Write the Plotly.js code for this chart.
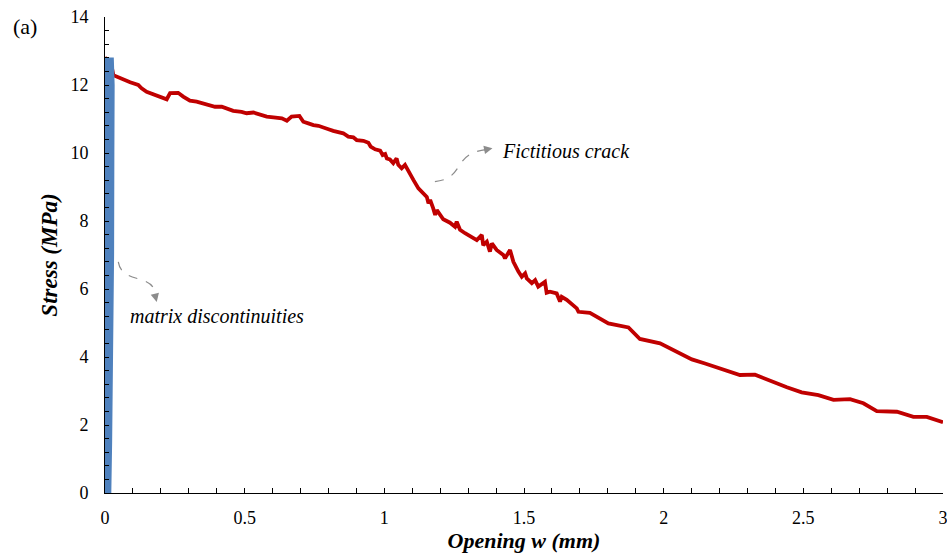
<!DOCTYPE html>
<html>
<head>
<meta charset="utf-8">
<script src="https://cdn.plot.ly/plotly-3.0.1.min.js"></script>
<style>html,body{margin:0;padding:0;background:#fff;}#chart{width:947px;height:554px;}</style>
</head>
<body>
<div id="chart"></div>
<script>
// Fictitious crack (red) — opening w (mm) vs stress (MPa)
const crackW = [0, 0.02, 0.030, 0.054, 0.090, 0.119, 0.131, 0.149, 0.179, 0.203, 0.221, 0.233, 0.262, 0.280, 0.304, 0.328, 0.364, 0.394, 0.418, 0.441, 0.459, 0.489, 0.507, 0.531, 0.555, 0.579, 0.603, 0.633, 0.651, 0.668, 0.696, 0.710, 0.728, 0.746, 0.764, 0.782, 0.800, 0.817, 0.835, 0.853, 0.871, 0.889, 0.901, 0.925, 0.943, 0.951, 0.967, 0.985, 0.994, 1.003, 1.009, 1.020, 1.032, 1.044, 1.050, 1.062, 1.074, 1.086, 1.104, 1.122, 1.140, 1.152, 1.158, 1.164, 1.175, 1.182, 1.188, 1.199, 1.211, 1.235, 1.253, 1.259, 1.271, 1.289, 1.307, 1.331, 1.349, 1.354, 1.367, 1.378, 1.385, 1.402, 1.426, 1.432, 1.450, 1.462, 1.480, 1.492, 1.504, 1.510, 1.528, 1.540, 1.551, 1.575, 1.581, 1.593, 1.617, 1.629, 1.635, 1.653, 1.689, 1.695, 1.736, 1.802, 1.874, 1.915, 1.987, 2.047, 2.101, 2.148, 2.214, 2.273, 2.327, 2.381, 2.441, 2.494, 2.554, 2.608, 2.667, 2.715, 2.763, 2.835, 2.894, 2.942, 3.000];
const crackStress = [12.8, 12.7, 12.29, 12.20, 12.08, 12.00, 11.90, 11.80, 11.71, 11.63, 11.58, 11.76, 11.77, 11.66, 11.54, 11.51, 11.44, 11.36, 11.36, 11.29, 11.24, 11.21, 11.17, 11.19, 11.12, 11.07, 11.05, 11.02, 10.95, 11.07, 11.09, 10.92, 10.87, 10.82, 10.80, 10.76, 10.70, 10.65, 10.61, 10.58, 10.48, 10.46, 10.38, 10.36, 10.30, 10.19, 10.11, 10.07, 9.94, 9.97, 9.84, 9.81, 9.70, 9.84, 9.65, 9.55, 9.65, 9.45, 9.21, 8.96, 8.81, 8.71, 8.52, 8.62, 8.37, 8.18, 8.32, 8.18, 8.05, 7.95, 7.83, 7.98, 7.74, 7.64, 7.56, 7.44, 7.59, 7.29, 7.39, 7.10, 7.34, 7.15, 7.00, 6.90, 7.15, 6.80, 6.51, 6.36, 6.46, 6.31, 6.17, 6.26, 6.07, 6.21, 5.89, 5.92, 5.87, 5.63, 5.77, 5.68, 5.43, 5.33, 5.30, 4.99, 4.87, 4.53, 4.40, 4.16, 3.93, 3.81, 3.62, 3.47, 3.48, 3.30, 3.11, 2.96, 2.88, 2.74, 2.76, 2.64, 2.41, 2.39, 2.24, 2.24, 2.08];

// Matrix discontinuities (blue band) — outline of the band
const matrixW = [0, 0.019, 0.022, 0.026, 0.029, 0.030, 0.031, 0.028, 0];
const matrixStress = [0, 0, 1.5, 4, 7, 10, 12.0, 12.78, 12.78];

// Axis ticks
const xTicks = [0, 0.5, 1, 1.5, 2, 2.5, 3];
const xTickText = ['0', '0.5', '1', '1.5', '2', '2.5', '3'];
const yTicks = [0, 2, 4, 6, 8, 10, 12, 14];
const yTickText = ['0', '2', '4', '6', '8', '10', '12', '14'];

const serif = '"Liberation Serif", "DejaVu Serif", serif';

const traces = [
  {
    x: crackW, y: crackStress, type: 'scatter', mode: 'lines',
    line: {color: '#c00000', width: 3.8}, name: 'Fictitious crack', hoverinfo: 'skip'
  },
  {
    x: matrixW, y: matrixStress, type: 'scatter', mode: 'lines',
    fill: 'toself', fillcolor: '#4f81bd',
    line: {color: '#4f81bd', width: 2}, name: 'matrix discontinuities', hoverinfo: 'skip'
  }
];

const gray = '#8c8c8c';
const layout = {
  width: 947, height: 554,
  margin: {l: 105, r: 4, t: 17, b: 61},
  paper_bgcolor: '#fff', plot_bgcolor: '#fff',
  showlegend: false,
  font: {family: serif, size: 18, color: '#000'},
  xaxis: {
    range: [0, 3], tickvals: xTicks, ticktext: xTickText,
    showgrid: false, zeroline: false, showline: true, linecolor: '#000', linewidth: 1,
    ticks: 'inside', ticklen: 5, tickcolor: '#000', ticklabelstandoff: 8,
    ticklabeloverflow: 'allow',
    minor: {dtick: 0.1, ticks: 'inside', ticklen: 5, tickcolor: '#000', showgrid: false},
    tickfont: {family: serif, size: 18, color: '#000'},
    title: {text: '<b><i>Opening w (mm)</i></b>', font: {family: serif, size: 22, color: '#000'}, standoff: 4}
  },
  yaxis: {
    range: [0, 14], tickvals: yTicks, ticktext: yTickText,
    showgrid: false, zeroline: false, showline: true, linecolor: '#000', linewidth: 1,
    ticks: 'inside', ticklen: 4, tickcolor: '#000', ticklabelstandoff: 12,
    ticklabeloverflow: 'allow',
    minor: {dtick: 0.4, ticks: 'inside', ticklen: 4, tickcolor: '#000', showgrid: false},
    tickfont: {family: serif, size: 18, color: '#000'},
    title: {text: '<b><i>Stress (MPa)</i></b>', font: {family: serif, size: 23, color: '#000'}, standoff: 6}
  },
  shapes: [
    {type: 'path', xref: 'x', yref: 'y', path: 'M 1.181,9.16 C 1.29,9.24 1.24,9.98 1.365,10.10',
     line: {color: gray, width: 1.2, dash: 'dash'}},
    {type: 'path', xref: 'x', yref: 'y', path: 'M 0.0476,6.80 C 0.06,6.15 0.165,6.45 0.178,5.92',
     line: {color: gray, width: 1.2, dash: 'dash'}}
  ],
  annotations: [
    {x: 1.387, y: 10.14, xref: 'x', yref: 'y', ax: -10, ay: 2, showarrow: true,
     arrowhead: 2, arrowsize: 1.4, arrowwidth: 1.2, arrowcolor: gray, text: ''},
    {x: 0.185, y: 5.62, xref: 'x', yref: 'y', ax: -2, ay: -9, showarrow: true,
     arrowhead: 2, arrowsize: 1.4, arrowwidth: 1.2, arrowcolor: gray, text: ''},
    {x: 1.414, y: 10.06, xref: 'x', yref: 'y', xanchor: 'left', yanchor: 'middle', showarrow: false,
     text: '<i>Fictitious crack</i>', font: {family: serif, size: 20, color: '#000'}},
    {x: 0.082, y: 5.21, xref: 'x', yref: 'y', xanchor: 'left', yanchor: 'middle', showarrow: false,
     text: '<i>matrix discontinuities</i>', font: {family: serif, size: 20, color: '#000'}},
    {x: -0.0955, y: 0.979, xref: 'paper', yref: 'paper', xanchor: 'center', yanchor: 'middle', showarrow: false,
     text: '(a)', font: {family: serif, size: 22, color: '#000'}}
  ]
};

Plotly.newPlot('chart', traces, layout, {displayModeBar: false, staticPlot: true});
</script>
</body>
</html>
